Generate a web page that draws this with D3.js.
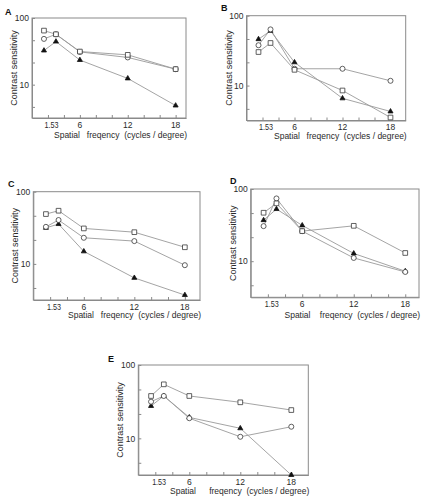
<!DOCTYPE html>
<html><head><meta charset="utf-8">
<script src="https://cdn.jsdelivr.net/npm/d3@7"></script>
<style>
html,body{margin:0;padding:0;background:#fff;}
svg{display:block;font-family:"Liberation Sans",Arial,sans-serif;}
</style></head>
<body>
<svg id="chart" width="428" height="500"></svg>
<script>
// ---- data ----
const freqs = [1.5, 3, 6, 12, 18];
const panelNames = ["A", "B", "C", "D", "E"];
const xTickLabels = ["1.53", "6", "12", "18"];
const xTickLabelValues = [2.45, 6, 12, 18];
const xTickValues = [2, 4, 6, 8, 10, 12, 14, 16, 18];
const yTickValues = [100, 46.4, 21.5, 10, 4.64];
const yTickLabels = ["100", "", "", "10", ""];
const yAxisTitle = "Contrast sensitivity";
const xTitleA = "Spatial";
const xTitleB = "freqency  (cycles / degree)";

const squareA = [64.7, 57, 31.4, 28, 17.1];
const circleA = [48.6, 57, 31, 25.6, 17.1];
const triangleA = [32.5, 44.3, 23.4, 12.4, 4.86];

const squareB = [30.2, 40.7, 16.8, 8.5, 3.49];
const circleB = [37.8, 63.7, 17.4, 17.4, 11.7];
const triangleB = [46.1, 60.8, 21.5, 6.56, 4.26];

const squareC = [49, 54.5, 31, 27.5, 17];
const circleC = [32.6, 40.5, 23, 20.7, 9.6];
const triangleC = [31.6, 35.6, 14.9, 6.4, 3.7];

const squareD = [46.9, 63.3, 26.1, 30.9, 13];
const circleD = [30.6, 74, 26.1, 11.1, 7.1];
const triangleD = [37, 52.7, 31.3, 12.8, 7.26];

const squareE = [37.8, 54.5, 37.8, 31, 24.3];
const circleE = [31.6, 37.8, 18.8, 10.5, 14.4];
const triangleE = [27.6, 37.8, 19.3, 13.7, 3.16];

const seriesByPanel = {
  A: {square: squareA, circle: circleA, triangle: triangleA},
  B: {square: squareB, circle: circleB, triangle: triangleB},
  C: {square: squareC, circle: circleC, triangle: triangleC},
  D: {square: squareD, circle: circleD, triangle: triangleD},
  E: {square: squareE, circle: circleE, triangle: triangleE}
};

// ---- layout ----
const layout = {
  A: {l: 32, t: 18, r: 186, b: 118, xMax: 19.3, letter: [5, 15], title: 137.5, spatial: 54},
  B: {l: 246.5, t: 15.7, r: 405.7, b: 120.5, xMax: 19.9, letter: [221, 11], title: 138.5, spatial: 274},
  C: {l: 33.3, t: 191.7, r: 200, b: 300, xMax: 19.8, letter: [8, 187], title: 318, spatial: 68},
  D: {l: 250.7, t: 189, r: 419, b: 297.3, xMax: 19.6, letter: [230, 184], title: 317.5, spatial: 284.5},
  E: {l: 138.3, t: 365, r: 308.3, b: 475, xMax: 20, letter: [108, 362], title: 494, spatial: 170}
};

const svg = d3.select("#chart");
const FS = 8.5;
const textColor = "#2a2a2a";
const lineColor = "#9a9a9a";
const markColor = "#3a3a3a";
const axisColor = "#8a8a8a";

function yLabelFor(d) {
  const k = yTickValues.findIndex(v => Math.abs(v - d) < 1e-6);
  return k >= 0 ? yTickLabels[k] : "";
}

panelNames.forEach(name => {
  const L = layout[name];
  const g = svg.append("g");
  const x = d3.scaleLinear().domain([0, L.xMax]).range([L.l, L.r]);
  const y = d3.scaleLog().domain([Math.pow(10, 0.5), 100]).range([L.b, L.t]);

  // box
  g.append("rect").attr("x", L.l).attr("y", L.t)
    .attr("width", L.r - L.l).attr("height", L.b - L.t)
    .attr("fill", "none").attr("stroke", axisColor).attr("stroke-width", 1);

  // x axis (inward ticks)
  const xa = g.append("g").attr("transform", `translate(0,${L.b})`)
    .call(d3.axisBottom(x).tickValues(xTickValues).tickSizeInner(-3).tickSizeOuter(0).tickFormat(() => ""));
  xa.select(".domain").attr("stroke", axisColor);
  xa.selectAll(".tick line").attr("stroke", axisColor);

  xTickLabels.forEach((lab, i) => {
    const t = g.append("text").attr("x", x(xTickLabelValues[i])).attr("y", L.b + 9.5)
      .attr("text-anchor", "middle").attr("font-size", FS).attr("fill", textColor).text(lab);
    if (lab.length > 3) t.attr("textLength", 14).attr("lengthAdjust", "spacingAndGlyphs");
  });

  // y axis (inward ticks)
  const ya = g.append("g").attr("transform", `translate(${L.l},0)`)
    .call(d3.axisLeft(y).tickValues(yTickValues).tickSizeInner(-3).tickSizeOuter(0).tickPadding(3)
      .tickFormat(yLabelFor));
  ya.select(".domain").attr("stroke", axisColor);
  ya.selectAll(".tick line").attr("stroke", axisColor);
  ya.selectAll(".tick text").attr("font-size", FS).attr("fill", textColor)
    .attr("font-family", "Liberation Sans, Arial, sans-serif");

  // titles
  g.append("text").attr("transform", `translate(${L.l - 15},${(L.t + L.b) / 2}) rotate(-90)`)
    .attr("text-anchor", "middle").attr("font-size", FS + 0.5).attr("fill", textColor).text(yAxisTitle);
  g.append("text").attr("x", L.spatial).attr("y", L.title)
    .attr("font-size", FS).attr("fill", textColor).text(xTitleA);
  g.append("text").attr("x", L.r + 1).attr("y", L.title).attr("text-anchor", "end")
    .attr("font-size", FS).attr("fill", textColor)
    .style("white-space", "pre").text(xTitleB);
  g.append("text").attr("x", L.letter[0]).attr("y", L.letter[1])
    .attr("font-size", 9).attr("font-weight", "bold").attr("fill", "#111").text(name);

  const S = seriesByPanel[name];
  const line = d3.line().x((d, i) => x(freqs[i])).y(d => y(d));
  ["square", "circle", "triangle"].forEach(k => {
    g.append("path").attr("d", line(S[k])).attr("fill", "none")
      .attr("stroke", lineColor).attr("stroke-width", 0.9);
  });
  // markers
  ["triangle", "circle", "square"].forEach(k => {
    const sym = k === "square" ? d3.symbolSquare : k === "circle" ? d3.symbolCircle : d3.symbolTriangle;
    const size = k === "square" ? 22 : k === "circle" ? 20 : 11;
    g.selectAll(null).data(S[k]).enter().append("path")
      .attr("d", d3.symbol().type(sym).size(size))
      .attr("transform", (d, i) => `translate(${x(freqs[i])},${y(d)})`)
      .attr("fill", k === "triangle" ? "#111" : "#fff")
      .attr("stroke", k === "triangle" ? "#111" : markColor)
      .attr("stroke-width", 0.8);
  });
});
</script>
</body></html>
